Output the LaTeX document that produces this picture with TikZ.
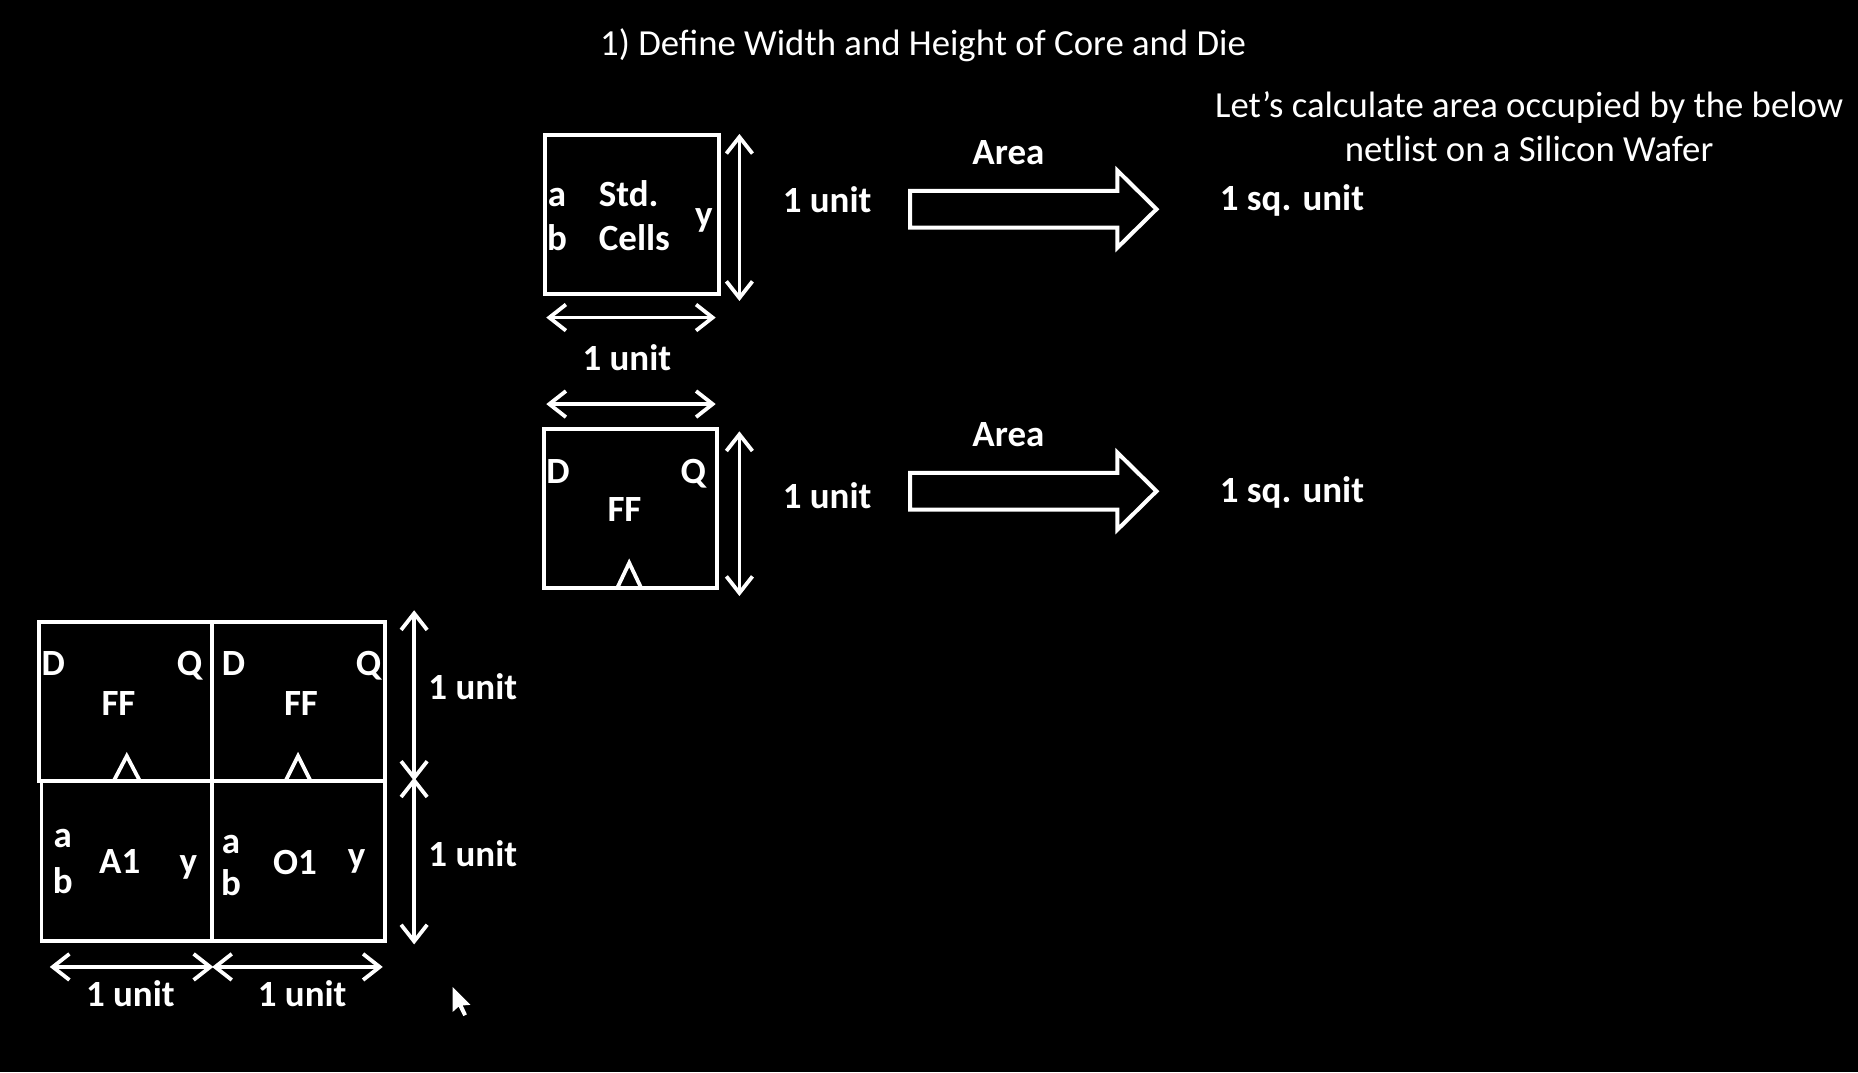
\documentclass[tikz,border=0pt]{standalone}
\usepackage{fontspec}
\setmainfont{Carlito}
\usetikzlibrary{arrows.meta}
\begin{document}
\begin{tikzpicture}[x=0.5pt,y=-0.5pt,
  wline/.style={draw=white,line width=1.6pt},
  dim/.style={draw=white,line width=1.6pt,{Straight Barb[length=7pt,width=11pt]}-{Straight Barb[length=7pt,width=11pt]}},
  lbl/.style={text=white,inner sep=0pt,anchor=base,font=\bfseries\fontsize{15.6}{18}\selectfont},
  plain/.style={text=white,inner sep=0pt,anchor=base,font=\fontsize{15.5}{18}\selectfont},
  blockarrow/.style={draw=white,line width=1.7pt,line join=miter},
]
\fill[black] (0,0) rectangle (1568,905);
\useasboundingbox (0,0) rectangle (1568,905);

% title and note
\node[plain] (title) at (779,46.5) {1) Define Width and Height of Core and Die};
\node[plain] (note1) at (1290.5,99) {Let’s calculate area occupied by the below};
\node[plain] (note2) at (1290.5,136.5) {netlist on a Silicon Wafer};

% ---------- standard cell ----------
\draw[wline] (460,114) rectangle (607,248);
\node[lbl] (sa) at (470,174) {a};
\node[lbl] (sb) at (470,211) {b};
\node[lbl,anchor=base west] (std) at (505,174) {Std.};
\node[lbl,anchor=base west] (cells) at (505,211) {Cells};
\node[lbl] (sy) at (594,191) {y};
\coordinate (sv1) at (624,113);
\coordinate (sv2) at (624,254);
\draw[dim] (sv1) -- (sv2);
\coordinate (sh1) at (461,268);
\coordinate (sh2) at (604,268);
\draw[dim] (sh1) -- (sh2);
\node[lbl] (su1) at (698,179) {1 unit};
\node[lbl] (su2) at (529,313) {1 unit};
\draw[blockarrow] (768,161) -- (943,161) -- (943,144) -- (976,176.5) -- (943,209) -- (943,192) -- (768,192) -- cycle;
\node[lbl] (area1) at (851,139) {Area};
\node[lbl,anchor=base west] (sq1) at (1029,178) {1 sq. unit};

% ---------- flip flop ----------
\coordinate (fh1) at (461,341);
\coordinate (fh2) at (604,341);
\draw[dim] (fh1) -- (fh2);
\draw[wline] (459,362) rectangle (605,496);
\node[lbl] (fd) at (471,408) {D};
\node[lbl] (fq) at (585,408) {Q};
\node[lbl] (ff) at (527,440) {FF};
\draw[wline] (521,496) -- (531,475) -- (541,496);
\coordinate (fv1) at (624,364);
\coordinate (fv2) at (624,503);
\draw[dim] (fv1) -- (fv2);
\node[lbl] (fu) at (698,429) {1 unit};
\draw[blockarrow] (768,399) -- (943,399) -- (943,382) -- (976,414.5) -- (943,447) -- (943,430) -- (768,430) -- cycle;
\node[lbl] (area2) at (851,377) {Area};
\node[lbl,anchor=base west] (sq2) at (1029,424) {1 sq. unit};

% ---------- netlist grid ----------
\draw[wline] (33,525) rectangle (179,659);
\draw[wline] (179,525) rectangle (325,659);
\draw[wline] (35,659) rectangle (179,794);
\draw[wline] (179,659) rectangle (325,794);
% top-left FF
\node[lbl] (g1d) at (45,570) {D};
\node[lbl] (g1q) at (160,570) {Q};
\node[lbl] (g1f) at (100,603.5) {FF};
\draw[wline] (96,659) -- (107,638) -- (118,659);
% top-right FF
\node[lbl] (g2d) at (197,570) {D};
\node[lbl] (g2q) at (311,570) {Q};
\node[lbl] (g2f) at (254,603.5) {FF};
\draw[wline] (241,659) -- (251.5,638) -- (262,659);
% bottom-left A1
\node[lbl] (g3a) at (53,715.5) {a};
\node[lbl] (g3b) at (53,754) {b};
\node[lbl] (g3n) at (101,737) {A1};
\node[lbl] (g3y) at (159,737) {y};
% bottom-right O1
\node[lbl] (g4a) at (195,720) {a};
\node[lbl] (g4b) at (195,756) {b};
\node[lbl] (g4n) at (249,738) {O1};
\node[lbl] (g4y) at (301,732) {y};
% dimensions
\coordinate (gv1) at (349.5,515);
\coordinate (gv2) at (349.5,659);
\coordinate (gv3) at (349.5,656);
\coordinate (gv4) at (349.5,797);
\draw[dim] (gv1) -- (gv2);
\draw[dim] (gv3) -- (gv4);
\node[lbl] (gu1) at (399,590.5) {1 unit};
\node[lbl] (gu2) at (399,731) {1 unit};
\coordinate (gh1) at (42,816);
\coordinate (gh2) at (180,816);
\coordinate (gh3) at (179,816);
\coordinate (gh4) at (323,816);
\draw[dim] (gh1) -- (gh2);
\draw[dim] (gh3) -- (gh4);
\node[lbl] (gu3) at (110,849.5) {1 unit};
\node[lbl] (gu4) at (255,849.5) {1 unit};

% mouse pointer
\fill[white] (382,833) -- (382,854) -- (387,849.5) -- (391,857.5) -- (394,856) -- (390.5,848.5) -- (397,848) -- cycle;
\end{tikzpicture}
\end{document}
